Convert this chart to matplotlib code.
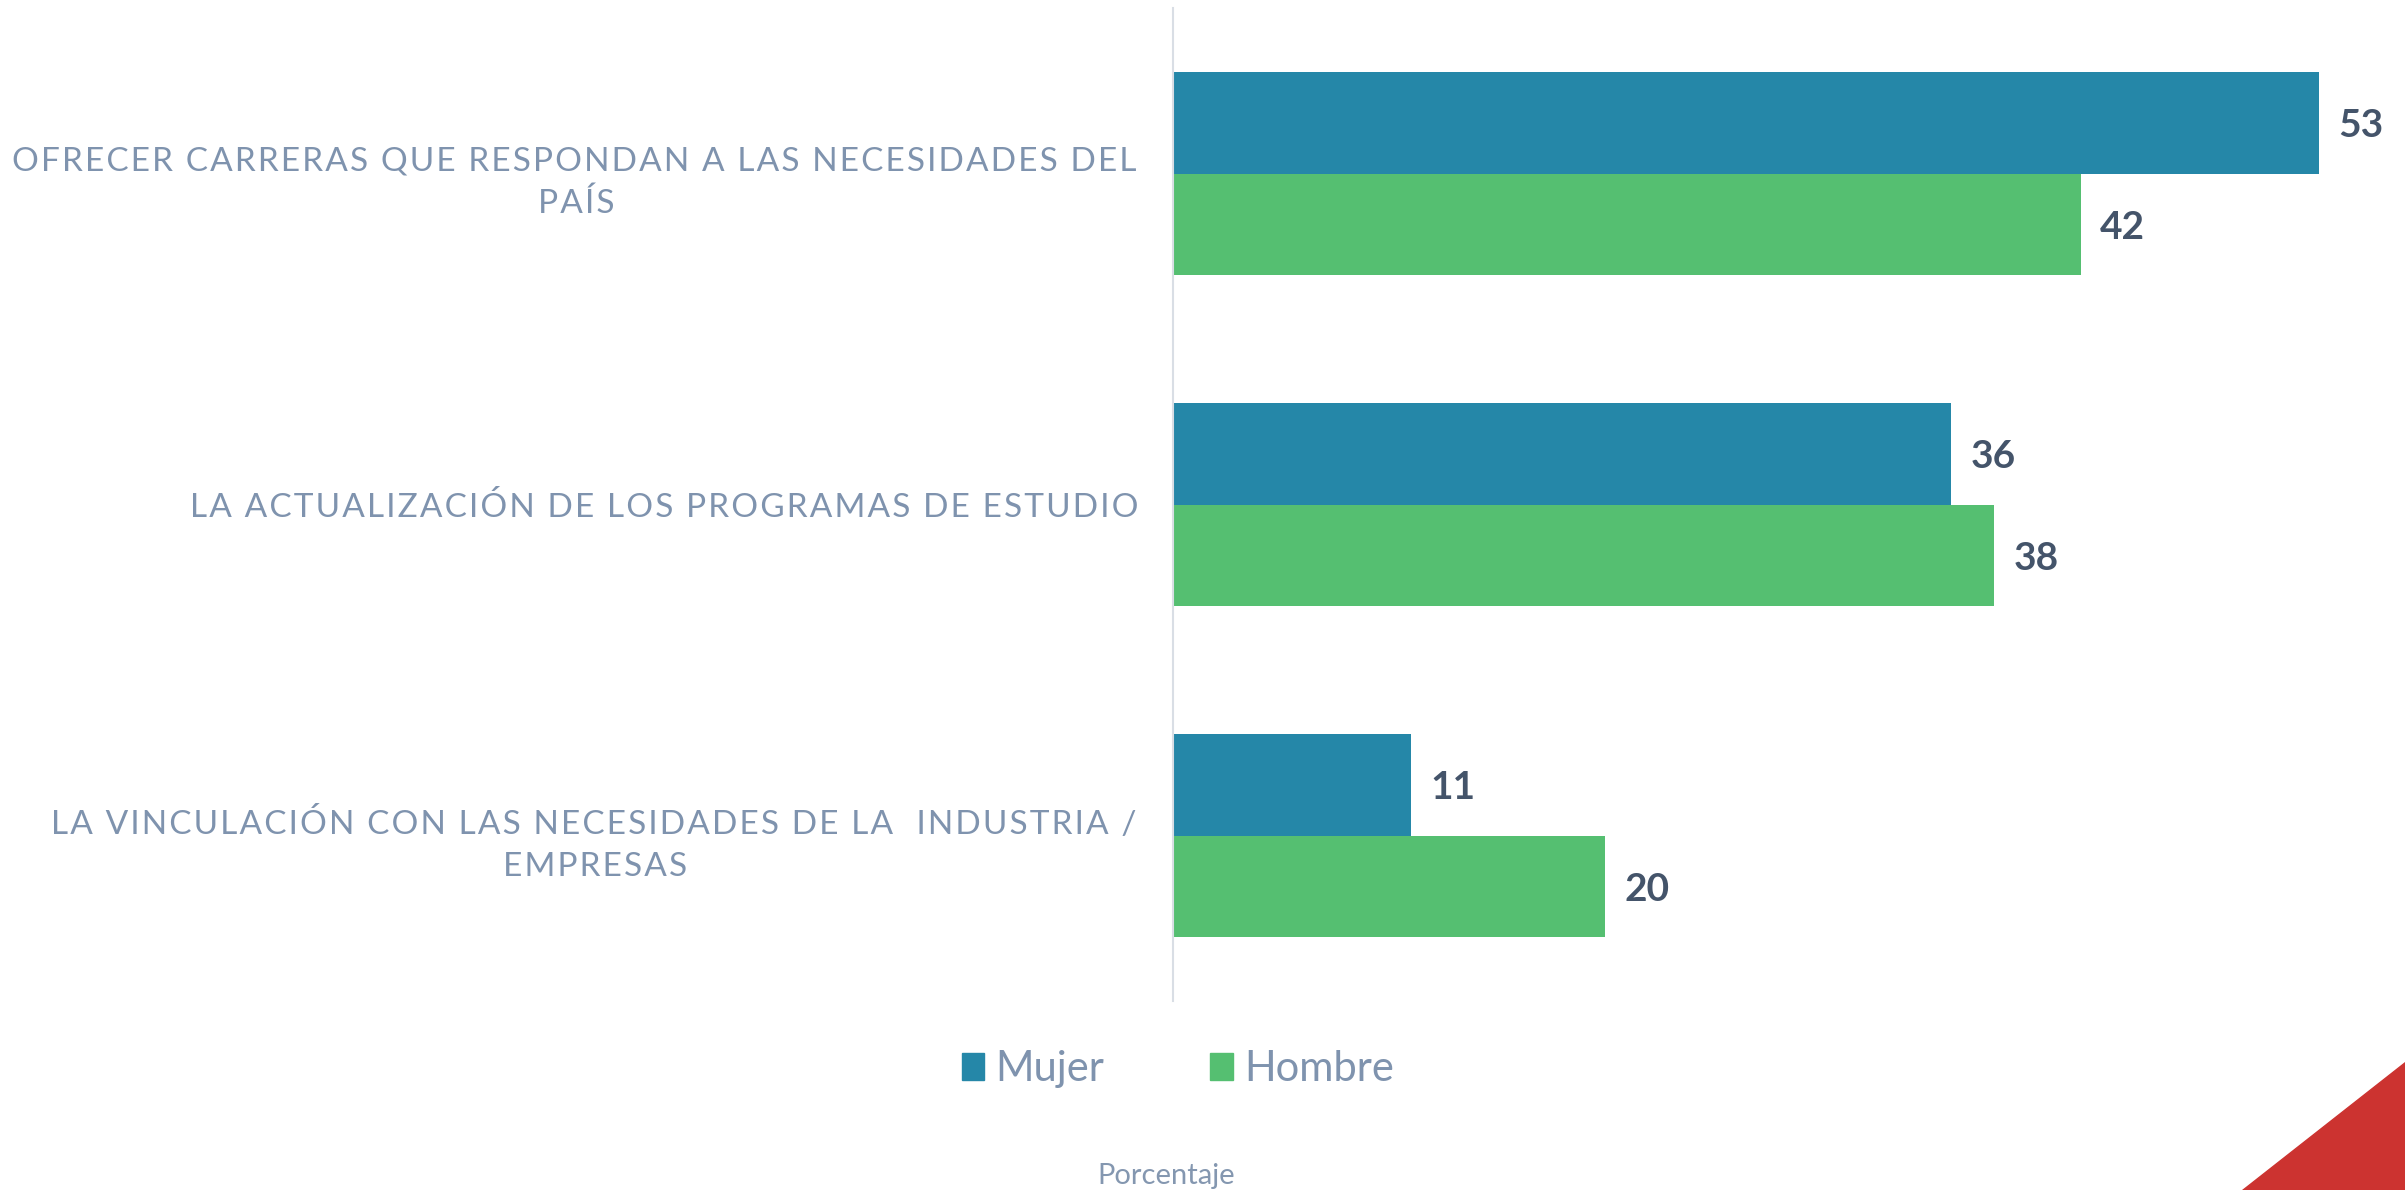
import matplotlib
matplotlib.use("Agg")
import matplotlib.pyplot as plt
from matplotlib.patches import Polygon, Patch

# ============================================================
# DATA
# ============================================================

categories = [
    "OFRECER CARRERAS QUE RESPONDAN A LAS NECESIDADES DEL\nPAÍS",
    "LA ACTUALIZACIÓN DE LOS PROGRAMAS DE ESTUDIO",
    "LA VINCULACIÓN CON LAS NECESIDADES DE LA  INDUSTRIA /\nEMPRESAS",
]
mujer = [53, 36, 11]
hombre = [42, 38, 20]
series_names = ["Mujer", "Hombre"]

# ============================================================
# STYLE
# ============================================================

c_mujer = "#2587A8"
c_hombre = "#55BF71"
c_label = "#7F93AE"
c_value = "#44546A"
plt.rcParams["font.family"] = ["Lato", "DejaVu Sans"]

W, H = 2405, 1190
fig = plt.figure(figsize=(W / 100, H / 100), dpi=100)
ax = fig.add_axes([1173 / W, (H - 1001) / H, (W - 1173) / W, 993 / H])

pos = list(range(len(categories)))
bh = 0.308
ax.barh([p - bh / 2 for p in pos], mujer, height=bh, color=c_mujer)
ax.barh([p + bh / 2 for p in pos], hombre, height=bh, color=c_hombre)

# value labels
for p, m, h in zip(pos, mujer, hombre):
    ax.annotate(str(m), (m, p - bh / 2), xytext=(14, -2), textcoords="offset points",
                va="center", ha="left", fontsize=28, fontweight="bold", color=c_value)
    ax.annotate(str(h), (h, p + bh / 2), xytext=(14, -2), textcoords="offset points",
                va="center", ha="left", fontsize=28, fontweight="bold", color=c_value)

ax.set_xlim(0, 57)
ax.set_ylim(2.5, -0.5)
ax.set_xticks([])
ax.set_yticks(pos)
spaced = ["\u200a".join(c) for c in categories]
ax.set_yticklabels(spaced, fontsize=24, color=c_label)
for lbl in ax.get_yticklabels():
    lbl.set_multialignment("center")
    lbl.set_linespacing(1.5)
ax.tick_params(axis="y", length=0, pad=25)
for s in ["top", "right", "bottom"]:
    ax.spines[s].set_visible(False)
ax.spines["left"].set_color("#D9DEE5")
ax.spines["left"].set_linewidth(1.5)

handles = [Patch(color=c_mujer), Patch(color=c_hombre)]
fig.legend(handles, series_names, loc="center", bbox_to_anchor=(1178 / W, 1 - 1069 / H),
           ncol=2, frameon=False, fontsize=30, labelcolor=c_label,
           handlelength=0.55, handleheight=0.6, handletextpad=0.27,
           columnspacing=2.54, borderpad=0)

fig.text(1166 / W, 1 - 1176 / H, "Porcentaje", ha="center", va="center",
         fontsize=21, color="#8497B0")

tri = Polygon([(2242 / W, 0), (1, 0), (1, 1 - 1062 / H)], closed=True,
              transform=fig.transFigure, color="#CC3330")
fig.patches.append(tri)

fig.savefig("out.png", dpi=100)
